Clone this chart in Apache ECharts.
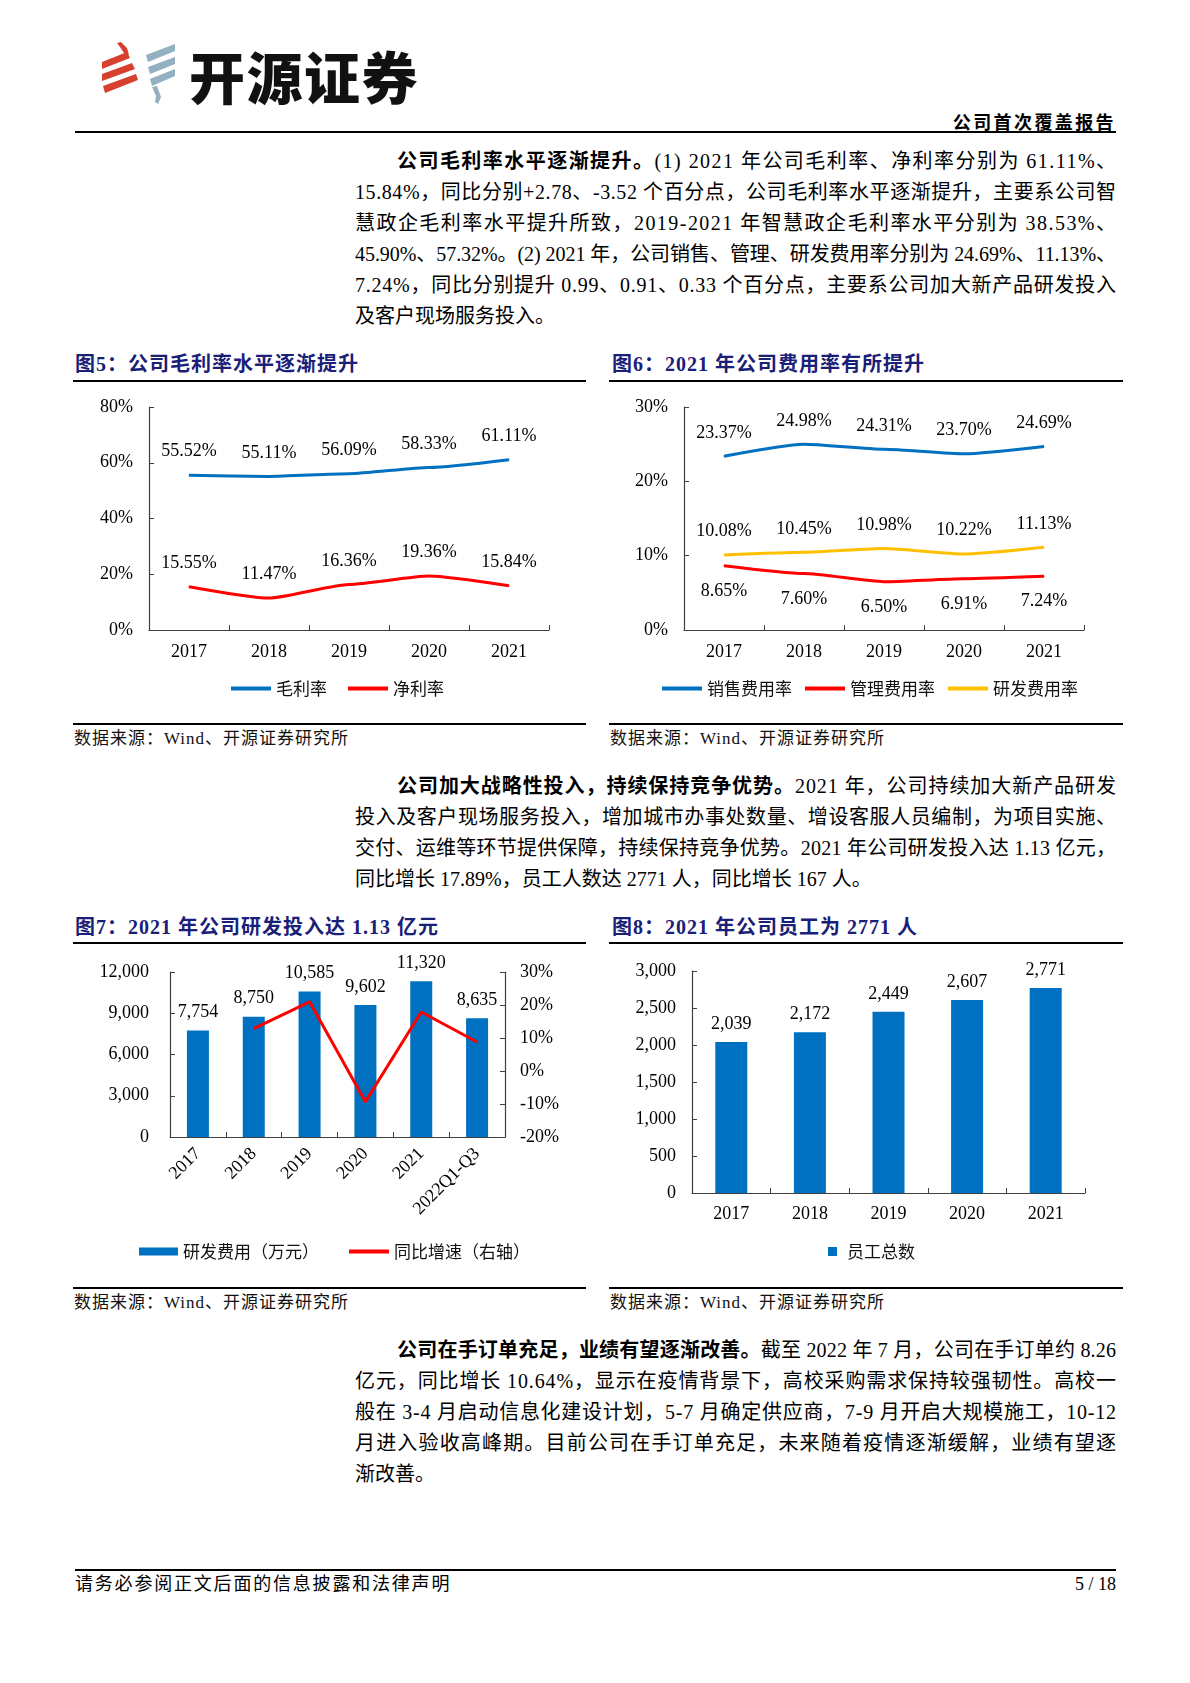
<!DOCTYPE html>
<html>
<head>
<meta charset="utf-8">
<script src="https://cdn.jsdelivr.net/npm/echarts@6/dist/echarts.min.js"></script>
<style>
  html, body { margin:0; padding:0; background:#fff; }
  #page { position:relative; width:1190px; height:1683px; overflow:hidden; background:#fff;
          font-family:"Liberation Serif","Noto Sans CJK SC",serif; color:#000; }
  .abs { position:absolute; white-space:nowrap; }
  .ln { position:absolute; white-space:nowrap; height:31px; line-height:31px; font-size:20px; }
  .ln b { font-family:"Liberation Serif","Noto Sans CJK SC",serif; font-weight:700; }
  .hr { position:absolute; background:#000; }
  .ttl { position:absolute; white-space:nowrap; font-size:20px; font-weight:700; color:#1a2078;
         letter-spacing:1px; line-height:24px; }
  .src { position:absolute; white-space:nowrap; font-size:17px; letter-spacing:1px; line-height:20px; color:#111; }
  #chart { position:absolute; left:0; top:0; width:1190px; height:1683px; }
</style>
</head>
<body>
<div id="page">
  <!-- header -->
  <svg class="abs" style="left:95px;top:38px" width="90" height="72" viewBox="95 38 90 72">
    <g fill="#D7402F">
      <polygon points="117,43 121,42 127,48 129,55 124,53 120,47"/>
      <polygon points="102,62 127,52 130,58 102,69"/>
      <polygon points="102,74 132,63 135,69 102,81"/>
      <polygon points="103,86 136,74 138,80 105,93"/>
    </g>
    <g fill="#93B0C1">
      <polygon points="146,55 175,44 175,51 148,62"/>
      <polygon points="148,67 175,57 175,64 150,74"/>
      <polygon points="150,79 175,69 175,76 152,86"/>
      <polygon points="152,87 157,86 161,97 158,104 155,102 156,96"/>
    </g>
  </svg>
  <div class="abs" style="left:189px;top:42px;font-family:'Noto Sans CJK SC';font-weight:900;font-size:56px;line-height:66px;color:#111;letter-spacing:1.5px">开源证券</div>
  <div class="abs" style="right:74px;top:110px;font-family:'Noto Sans CJK SC';font-weight:700;font-size:18px;letter-spacing:2.4px;line-height:22px">公司首次覆盖报告</div>
  <div class="hr" style="left:75px;top:131px;width:1041px;height:2px"></div>

  <!-- paragraph 1 -->
  <div class="ln j" data-w="719" style="left:397px;top:145.5px"><b>公司毛利率水平逐渐提升。</b>(1) 2021 年公司毛利率、净利率分别为 61.11%、</div>
  <div class="ln j" data-w="761" style="left:355px;top:176.6px">15.84%，同比分别+2.78、-3.52 个百分点，公司毛利率水平逐渐提升，主要系公司智</div>
  <div class="ln j" data-w="761" style="left:355px;top:207.7px">慧政企毛利率水平提升所致，2019-2021 年智慧政企毛利率水平分别为 38.53%、</div>
  <div class="ln j" data-w="761" style="left:355px;top:238.8px">45.90%、57.32%。(2) 2021 年，公司销售、管理、研发费用率分别为 24.69%、11.13%、</div>
  <div class="ln j" data-w="761" style="left:355px;top:269.9px">7.24%，同比分别提升 0.99、0.91、0.33 个百分点，主要系公司加大新产品研发投入</div>
  <div class="ln" style="left:355px;top:301px">及客户现场服务投入。</div>

  <!-- figure 5 / 6 titles -->
  <div class="ttl" style="left:75px;top:352px">图5：公司毛利率水平逐渐提升</div>
  <div class="ttl" style="left:612px;top:352px">图6：2021 年公司费用率有所提升</div>
  <div class="hr" style="left:73px;top:380px;width:513px;height:1.5px"></div>
  <div class="hr" style="left:609px;top:380px;width:514px;height:1.5px"></div>
  <div class="hr" style="left:73px;top:723px;width:513px;height:1.5px"></div>
  <div class="hr" style="left:609px;top:723px;width:514px;height:1.5px"></div>
  <div class="src" style="left:74px;top:729px">数据来源：Wind、开源证券研究所</div>
  <div class="src" style="left:610px;top:729px">数据来源：Wind、开源证券研究所</div>

  <!-- paragraph 2 -->
  <div class="ln j" data-w="719" style="left:397px;top:771.1px"><b>公司加大战略性投入，持续保持竞争优势。</b>2021 年，公司持续加大新产品研发</div>
  <div class="ln j" data-w="761" style="left:355px;top:802.2px">投入及客户现场服务投入，增加城市办事处数量、增设客服人员编制，为项目实施、</div>
  <div class="ln j" data-w="761" style="left:355px;top:833.3px">交付、运维等环节提供保障，持续保持竞争优势。2021 年公司研发投入达 1.13 亿元，</div>
  <div class="ln" style="left:355px;top:864.4px">同比增长 17.89%，员工人数达 2771 人，同比增长 167 人。</div>

  <!-- figure 7 / 8 titles -->
  <div class="ttl" style="left:75px;top:915px">图7：2021 年公司研发投入达 1.13 亿元</div>
  <div class="ttl" style="left:612px;top:915px">图8：2021 年公司员工为 2771 人</div>
  <div class="hr" style="left:73px;top:942px;width:513px;height:1.5px"></div>
  <div class="hr" style="left:609px;top:942px;width:514px;height:1.5px"></div>
  <div class="hr" style="left:73px;top:1287px;width:513px;height:1.5px"></div>
  <div class="hr" style="left:609px;top:1287px;width:514px;height:1.5px"></div>
  <div class="src" style="left:74px;top:1293px">数据来源：Wind、开源证券研究所</div>
  <div class="src" style="left:610px;top:1293px">数据来源：Wind、开源证券研究所</div>

  <!-- paragraph 3 -->
  <div class="ln j" data-w="719" style="left:397px;top:1334.5px"><b>公司在手订单充足，业绩有望逐渐改善。</b>截至 2022 年 7 月，公司在手订单约 8.26</div>
  <div class="ln j" data-w="761" style="left:355px;top:1365.6px">亿元，同比增长 10.64%，显示在疫情背景下，高校采购需求保持较强韧性。高校一</div>
  <div class="ln j" data-w="761" style="left:355px;top:1396.7px">般在 3-4 月启动信息化建设计划，5-7 月确定供应商，7-9 月开启大规模施工，10-12</div>
  <div class="ln j" data-w="761" style="left:355px;top:1427.8px">月进入验收高峰期。目前公司在手订单充足，未来随着疫情逐渐缓解，业绩有望逐</div>
  <div class="ln" style="left:355px;top:1458.9px">渐改善。</div>

  <!-- footer -->
  <div class="hr" style="left:75px;top:1569px;width:1041px;height:1.5px"></div>
  <div class="abs" style="left:75px;top:1573px;font-size:18px;letter-spacing:1.8px;line-height:22px">请务必参阅正文后面的信息披露和法律声明</div>
  <div class="abs" style="right:74px;top:1573px;font-size:18px;line-height:22px">5 / 18</div>

  <div id="chart"></div>
</div>

<script>
// ---------- data ----------
const years = ['2017', '2018', '2019', '2020', '2021'];
const grossMargin = [55.52, 55.11, 56.09, 58.33, 61.11];
const netMargin = [15.55, 11.47, 16.36, 19.36, 15.84];
const salesRate = [23.37, 24.98, 24.31, 23.70, 24.69];
const adminRate = [8.65, 7.60, 6.50, 6.91, 7.24];
const rdRate = [10.08, 10.45, 10.98, 10.22, 11.13];
const rdPeriods = ['2017', '2018', '2019', '2020', '2021', '2022Q1-Q3'];
const rdExpense = [7754, 8750, 10585, 9602, 11320, 8635];
const rdGrowth = [null, 12.84, 20.97, -9.29, 17.89, 8.8];
const staffTotal = [2039, 2172, 2449, 2607, 2771];

// ---------- text fitting (justify each line) ----------
function fitLines() {
  document.querySelectorAll('.j').forEach(el => {
    el.style.letterSpacing = '0px';
    const r = document.createRange();
    r.selectNodeContents(el);
    const natural = r.getBoundingClientRect().width;
    const n = el.textContent.length;
    const target = parseFloat(el.dataset.w);
    el.style.letterSpacing = ((target - natural) / (n - 1)) + 'px';
  });
}
fitLines();
if (document.fonts && document.fonts.ready) document.fonts.ready.then(fitLines);

// ---------- chart ----------
const BLUE = '#0070C0', RED = '#FF0000', YELLOW = '#FFC000', AX = '#404040';
const FNUM = '"Liberation Serif", "Times New Roman", serif';
const FCN = '"Noto Sans CJK SC", sans-serif';

function catAxis(gi, data, extra) {
  return Object.assign({
    type: 'category', gridIndex: gi, data: data, boundaryGap: true,
    axisLine: { show: true, onZero: false, lineStyle: { color: AX, width: 1.2 } },
    axisTick: { show: true, inside: true, length: 5, lineStyle: { color: AX } },
    splitLine: { show: false },
    axisLabel: { interval: 0, color: '#000', fontSize: 18, fontFamily: FNUM, margin: 13 }
  }, extra || {});
}
function valAxis(gi, min, max, interval, fmt, extra) {
  return Object.assign({
    type: 'value', gridIndex: gi, min: min, max: max, interval: interval,
    axisLine: { show: true, lineStyle: { color: AX, width: 1.2 } },
    axisTick: { show: true, inside: true, length: 5, lineStyle: { color: AX } },
    splitLine: { show: false },
    axisLabel: { color: '#000', fontSize: 18, fontFamily: FNUM, margin: 16, formatter: fmt }
  }, extra || {});
}
const pct = v => v + '%';
const pct2 = p => p.value.toFixed(2) + '%';
const thou = v => v.toLocaleString('en-US');
const thouP = p => p.value.toLocaleString('en-US');

function lineSeries(name, xi, yi, data, color, pos, dist, smooth) {
  const withLabel = pos !== null;
  return {
    type: 'line', name: name, xAxisIndex: xi, yAxisIndex: yi, data: data,
    symbol: withLabel ? 'circle' : 'none', symbolSize: 1, showSymbol: withLabel,
    smooth: smooth, smoothMonotone: 'x',
    lineStyle: { color: color, width: 3 }, itemStyle: { color: color },
    label: { show: withLabel, position: pos || 'top', distance: dist, formatter: pct2,
             color: '#000', fontSize: 18, fontFamily: FNUM },
    emphasis: { disabled: true }
  };
}
function barSeries(name, xi, yi, data, width) {
  return {
    type: 'bar', name: name, xAxisIndex: xi, yAxisIndex: yi, data: data, barWidth: width,
    itemStyle: { color: BLUE },
    label: { show: true, position: 'top', distance: 9, formatter: thouP,
             color: '#000', fontSize: 18, fontFamily: FNUM },
    emphasis: { disabled: true }
  };
}
const legendText = { color: '#111', fontSize: 17, fontFamily: FCN };
function lineLegend(names, left, top, gap) {
  return { data: names.map(n => ({ name: n, icon: 'rect' })), left: left, top: top,
           itemWidth: 40, itemHeight: 4, itemGap: gap, textStyle: legendText, selectedMode: false };
}

const option = {
  animation: false,
  grid: [
    { left: 149, top: 407, width: 400, height: 223, containLabel: false, outerBoundsMode: 'none' },
    { left: 684, top: 407, width: 400, height: 223, containLabel: false, outerBoundsMode: 'none' },
    { left: 170, top: 972, width: 335, height: 165, containLabel: false, outerBoundsMode: 'none' },
    { left: 692, top: 971, width: 393, height: 222, containLabel: false, outerBoundsMode: 'none' }
  ],
  xAxis: [
    catAxis(0, years),
    catAxis(1, years),
    catAxis(2, rdPeriods, { axisLabel: { interval: 0, rotate: 45, color: '#000', fontSize: 18, fontFamily: FNUM, margin: 14 } }),
    catAxis(3, years, { axisLabel: { interval: 0, color: '#000', fontSize: 18, fontFamily: FNUM, margin: 12 } })
  ],
  yAxis: [
    valAxis(0, 0, 80, 20, pct),
    valAxis(1, 0, 30, 10, pct),
    valAxis(2, 0, 12000, 3000, thou, { axisLabel: { color: '#000', fontSize: 18, fontFamily: FNUM, margin: 21, formatter: thou } }),
    valAxis(2, -20, 30, 10, pct, { position: 'right', axisLabel: { color: '#000', fontSize: 18, fontFamily: FNUM, margin: 15, formatter: pct } }),
    valAxis(3, 0, 3000, 500, thou)
  ],
  legend: [
    lineLegend(['毛利率', '净利率'], 226, 675, 21),
    lineLegend(['销售费用率', '管理费用率', '研发费用率'], 657, 675, 13),
    { data: [{ name: '研发费用（万元）', icon: 'rect' }], left: 134, top: 1238, itemWidth: 39, itemHeight: 8,
      textStyle: legendText, selectedMode: false },
    lineLegend(['同比增速（右轴）'], 344, 1238, 10),
    { data: [{ name: '员工总数', icon: 'rect' }], left: 823, top: 1238, itemWidth: 9, itemHeight: 9,
      textStyle: Object.assign({ padding: [0, 0, 0, 5] }, legendText), selectedMode: false }
  ],
  series: [
    lineSeries('毛利率', 0, 0, grossMargin, BLUE, 'top', 14, 0.2),
    lineSeries('净利率', 0, 0, netMargin, RED, 'top', 14, 0.2),
    lineSeries('销售费用率', 1, 1, salesRate, BLUE, 'top', 14, 0.2),
    lineSeries('管理费用率', 1, 1, adminRate, RED, 'bottom', 16, 0.2),
    lineSeries('研发费用率', 1, 1, rdRate, YELLOW, 'top', 14, 0.2),
    barSeries('研发费用（万元）', 2, 2, rdExpense, 22),
    lineSeries('同比增速（右轴）', 2, 3, rdGrowth, RED, null, 0, false),
    barSeries('员工总数', 3, 4, staffTotal, 32)
  ]
};

const chart = echarts.init(document.getElementById('chart'), null, { renderer: 'canvas' });
chart.setOption(option);
</script>
</body>
</html>
